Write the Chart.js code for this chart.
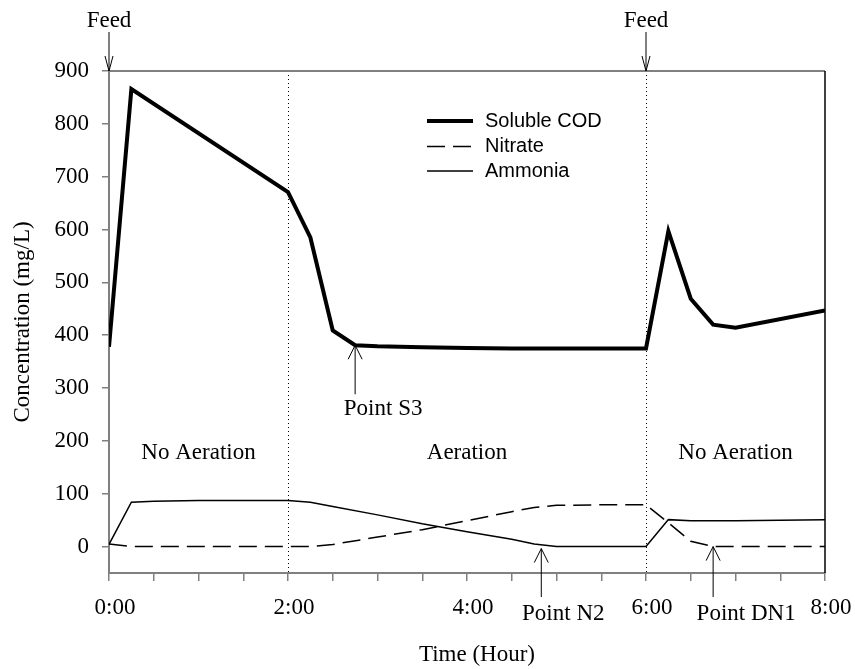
<!DOCTYPE html>
<html>
<head>
<meta charset="utf-8">
<script src="https://cdn.jsdelivr.net/npm/chart.js@4.4.0/dist/chart.umd.min.js"></script>
<style>
  body { margin: 0; background: #fff; }
  #chart { display: block; }
</style>
</head>
<body>
<canvas id="chart" width="855" height="669"></canvas>
<script>
// --- data (time in hours, concentration in mg/L) ---
const codTime = [0, 0.25, 2, 2.25, 2.5, 2.75, 3, 3.5, 4, 4.5, 5, 5.5, 6, 6.25, 6.5, 6.75, 7, 8];
const codValue = [378, 866, 671, 585, 409, 381, 379, 377, 376, 375, 375, 375, 375, 597, 469, 420, 414, 447];

const no3Time = [0, 0.25, 0.5, 1, 1.5, 2, 2.25, 2.5, 3, 3.5, 4, 4.5, 4.75, 5, 5.5, 6, 6.25, 6.5, 6.75, 7, 8];
const no3Value = [5, 0, 0, 0, 0, 0, 0, 4, 18, 32, 49, 66, 74, 78, 79, 79, 45, 10, 0, 0, 0];

const nh4Time = [0, 0.25, 0.5, 1, 1.5, 2, 2.25, 2.5, 3, 3.5, 4, 4.5, 4.75, 5, 5.5, 6, 6.25, 6.5, 7, 8];
const nh4Value = [4, 84, 86, 87, 87, 87, 84, 76, 60, 43, 28, 14, 5, 0, 0, 0, 51, 49, 49, 51];

const seriesNames = ['Soluble COD', 'Nitrate', 'Ammonia'];
const yTicks = [0, 100, 200, 300, 400, 500, 600, 700, 800, 900];
const phaseLabels = ['No Aeration', 'Aeration', 'No Aeration'];
const phaseCenters = [1, 4, 7];
const phaseSwitches = [2, 6];
const feedTimes = [0, 6];

const serif = '"Liberation Serif", "Times New Roman", serif';
const sans = '"Liberation Sans", Arial, sans-serif';
const axisGray = '#808080';

const toPoints = (xs, ys) => xs.map((x, i) => ({ x, y: ys[i] }));

// open V arrow, head sits at the tip end
function arrow(ctx, x, tipY, tailY, headW, headH) {
    const dir = tailY > tipY ? 1 : -1;
    ctx.beginPath();
    ctx.moveTo(x, tailY);
    ctx.lineTo(x, tipY);
    ctx.moveTo(x - headW, tipY + dir * headH);
    ctx.lineTo(x, tipY);
    ctx.lineTo(x + headW, tipY + dir * headH);
    ctx.stroke();
}

const annotations = {
    id: 'annotations',
    beforeDatasetsDraw(chart) {
        const { ctx, chartArea: a, scales: { x } } = chart;
        ctx.save();
        ctx.strokeStyle = '#000';
        ctx.lineWidth = 1;
        ctx.setLineDash([1, 3]);
        phaseSwitches.forEach(t => {
            const px = Math.round(x.getPixelForValue(t)) + 0.5;
            ctx.beginPath();
            ctx.moveTo(px, a.top);
            ctx.lineTo(px, a.bottom);
            ctx.stroke();
        });
        ctx.restore();
    },
    afterDatasetsDraw(chart) {
        const { ctx, chartArea: a, scales: { x, y } } = chart;
        ctx.save();

        // frame: gray top, black right
        ctx.strokeStyle = axisGray;
        ctx.lineWidth = 2;
        ctx.beginPath();
        ctx.moveTo(a.left, a.top);
        ctx.lineTo(a.right, a.top);
        ctx.stroke();
        ctx.strokeStyle = '#000';
        ctx.lineWidth = 1.5;
        ctx.beginPath();
        ctx.moveTo(a.right, a.top);
        ctx.lineTo(a.right, a.bottom);
        ctx.stroke();

        ctx.fillStyle = '#000';
        ctx.font = `23px ${serif}`;
        ctx.textAlign = 'center';
        ctx.textBaseline = 'middle';

        // Feed arrows
        ctx.lineWidth = 1;
        feedTimes.forEach(t => {
            const px = x.getPixelForValue(t);
            arrow(ctx, px, a.top, a.top - 39, 4, 15);
            ctx.fillText('Feed', px, a.top - 50);
        });

        // phase labels
        phaseLabels.forEach((txt, i) => {
            ctx.fillText(txt, x.getPixelForValue(phaseCenters[i]), y.getPixelForValue(178));
        });

        // Point S3 on COD curve
        const s3x = x.getPixelForValue(2.75);
        const s3y = y.getPixelForValue(codValue[codTime.indexOf(2.75)]);
        arrow(ctx, s3x, s3y, s3y + 49, 7, 14);
        ctx.fillText('Point S3', s3x + 28, s3y + 64);

        // Point N2 and DN1 near zero
        const zero = y.getPixelForValue(0);
        const n2x = x.getPixelForValue(4.83);
        arrow(ctx, n2x, zero + 2, 597, 7, 14);
        ctx.fillText('Point N2', n2x + 22, 614);
        const dnx = x.getPixelForValue(6.75);
        arrow(ctx, dnx, zero, 597, 7, 14);
        ctx.fillText('Point DN1', dnx + 33, 614);

        // axis titles
        ctx.fillText('Time (Hour)', 477, 655);
        ctx.save();
        ctx.translate(23, (a.top + a.bottom) / 2);
        ctx.rotate(-Math.PI / 2);
        ctx.fillText('Concentration (mg/L)', 0, 0);
        ctx.restore();

        // legend
        const legendY = [121, 146.5, 171];
        ctx.font = `20px ${sans}`;
        ctx.textAlign = 'left';
        chart.data.datasets.forEach((ds, i) => {
            ctx.strokeStyle = ds.borderColor;
            ctx.lineWidth = ds.borderWidth;
            ctx.setLineDash(ds.borderDash || []);
            ctx.beginPath();
            ctx.moveTo(427, legendY[i]);
            ctx.lineTo(473, legendY[i]);
            ctx.stroke();
            ctx.fillText(ds.label, 485, legendY[i]);
        });

        ctx.restore();
    }
};

new Chart(document.getElementById('chart'), {
    type: 'line',
    data: {
        datasets: [
            { label: seriesNames[0], data: toPoints(codTime, codValue), borderColor: '#000', borderWidth: 4, pointRadius: 0, borderJoinStyle: 'miter' },
            { label: seriesNames[1], data: toPoints(no3Time, no3Value), borderColor: '#000', borderWidth: 1.5, borderDash: [18, 8], pointRadius: 0 },
            { label: seriesNames[2], data: toPoints(nh4Time, nh4Value), borderColor: '#000', borderWidth: 1.5, pointRadius: 0 }
        ]
    },
    options: {
        responsive: false,
        animation: false,
        events: [],
        layout: { padding: { left: 0, top: 71, right: 30, bottom: 0 } },
        plugins: { legend: { display: false }, tooltip: { enabled: false } },
        scales: {
            x: {
                type: 'linear',
                min: 0,
                max: 8,
                afterFit: s => { s.height = 96; s.paddingRight = 0; s.paddingLeft = 0; },
                border: { color: axisGray, width: 2 },
                grid: { drawOnChartArea: false, color: axisGray, lineWidth: 1.5, tickLength: 8 },
                ticks: {
                    stepSize: 0.5,
                    autoSkip: false,
                    maxRotation: 0,
                    padding: 13,
                    labelOffset: 6,
                    color: '#000',
                    font: { family: serif, size: 23 },
                    callback: v => (v % 2 === 0 ? `${v}:00` : '')
                }
            },
            y: {
                min: -50,
                max: 900,
                afterFit: s => { s.width = 109; s.paddingTop = 0; s.paddingBottom = 0; },
                afterBuildTicks: s => { s.ticks = yTicks.map(v => ({ value: v })); },
                border: { color: axisGray, width: 2 },
                grid: { drawOnChartArea: false, color: axisGray, lineWidth: 1.5, tickLength: 7 },
                ticks: {
                    stepSize: 100,
                    padding: 13,
                    color: '#000',
                    font: { family: serif, size: 23 }
                }
            }
        }
    },
    plugins: [annotations]
});
</script>
</body>
</html>
